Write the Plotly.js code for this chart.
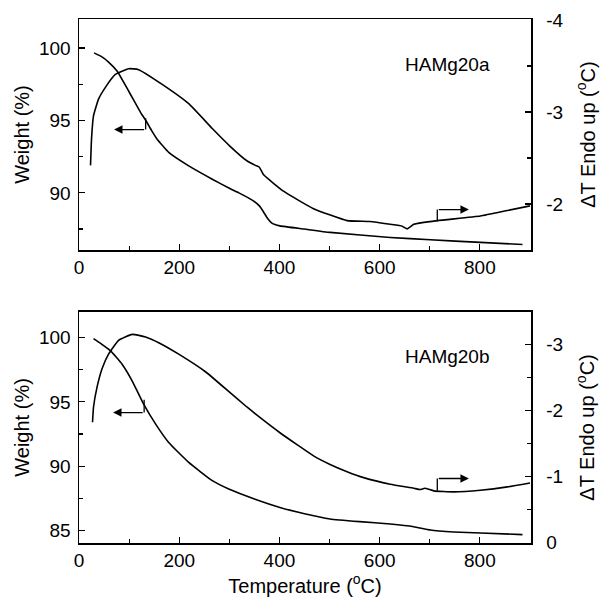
<!DOCTYPE html>
<html>
<head>
<meta charset="utf-8">
<script src="https://cdn.plot.ly/plotly-3.0.1.min.js"></script>
<style>html,body{margin:0;padding:0;background:#fff;}#chart{width:608px;height:604px;}</style>
</head>
<body>
<div id="chart"></div>
<script>
// ---- Data ----
// Panel a (HAMg20a)
const tgaA_T = [30, 45, 59, 76, 99, 123, 133, 145, 156, 179, 219, 266, 301, 319, 348, 360, 368, 375, 385, 401, 450, 501, 621, 701, 801, 885];
const tgaA_W = [99.66, 99.4, 99.03, 98.41, 97.03, 95.54, 95.01, 94.3, 93.70, 92.79, 91.86, 90.94, 90.3, 90.0, 89.45, 89.1, 88.7, 88.30, 87.91, 87.72, 87.5, 87.27, 86.92, 86.76, 86.58, 86.44];
const dtaA_T = [23, 25, 29, 39, 53, 73, 99, 119, 166, 219, 266, 301, 335, 352, 360, 368, 408, 468, 535, 581, 621, 645, 655, 668, 715, 801, 855, 900];
const dtaA_D = [-2.42, -2.71, -2.96, -3.14, -3.27, -3.41, -3.47, -3.46, -3.30, -3.09, -2.82, -2.63, -2.47, -2.42, -2.40, -2.32, -2.14, -1.95, -1.82, -1.81, -1.78, -1.76, -1.73, -1.78, -1.82, -1.87, -1.93, -1.98];
// Panel b (HAMg20b)
const tgaB_T = [29, 45, 63, 86, 106, 129, 153, 179, 219, 266, 300, 350, 401, 450, 501, 560, 621, 668, 701, 748, 801, 885];
const tgaB_W = [99.92, 99.5, 98.97, 97.93, 96.64, 94.82, 93.27, 91.84, 90.29, 88.87, 88.2, 87.45, 86.79, 86.3, 85.89, 85.68, 85.50, 85.29, 85.03, 84.88, 84.80, 84.67];
const dtaB_T = [27, 29, 36, 46, 59, 79, 106, 133, 160, 199, 253, 301, 335, 368, 401, 435, 468, 501, 535, 568, 621, 668, 681, 690, 708, 748, 801, 855, 900];
const dtaB_D = [-1.82, -2.05, -2.35, -2.63, -2.85, -3.06, -3.15, -3.11, -3.02, -2.85, -2.58, -2.27, -2.05, -1.85, -1.66, -1.48, -1.31, -1.18, -1.07, -0.98, -0.88, -0.82, -0.80, -0.82, -0.78, -0.765, -0.79, -0.84, -0.90];
// Tick labels
const xTickVals = [0, 200, 400, 600, 800];
const rightTopVals = [-4, -3, -2];
const rightTopText = ['-4', '-3', '-2'];
const rightBotVals = [-3, -2, -1, 0];
const rightBotText = ['-3', '-2', '-1', '0'];
const labelA = 'HAMg20a';
const labelB = 'HAMg20b';

const FONT = 'Liberation Sans, Arial, Helvetica, sans-serif';
const lineStyle = {color: '#000', width: 1.6, shape: 'spline', smoothing: 0.4};

const traces = [
  {x: tgaA_T, y: tgaA_W, xaxis: 'x', yaxis: 'y', mode: 'lines', line: lineStyle, hoverinfo: 'skip'},
  {x: dtaA_T, y: dtaA_D, xaxis: 'x', yaxis: 'y2', mode: 'lines', line: lineStyle, hoverinfo: 'skip'},
  {x: tgaB_T, y: tgaB_W, xaxis: 'x2', yaxis: 'y3', mode: 'lines', line: lineStyle, hoverinfo: 'skip'},
  {x: dtaB_T, y: dtaB_D, xaxis: 'x2', yaxis: 'y4', mode: 'lines', line: lineStyle, hoverinfo: 'skip'}
];

const tickFont = {family: FONT, size: 19, color: '#000'};
const titleFont = {family: FONT, size: 20, color: '#000'};

function xAxis(anchor, withTitle) {
  const ax = {
    domain: [0, 1], anchor: anchor, range: [0, 902],
    tickvals: xTickVals, ticks: 'inside', ticklen: 6, tickwidth: 1.2, tickcolor: '#000',
    minor: {tickvals: [100, 300, 500, 700], ticks: 'inside', ticklen: 4, tickwidth: 1.2, tickcolor: '#000'},
    showline: true, linecolor: '#000', linewidth: 1.5, mirror: true,
    showgrid: false, zeroline: false, tickfont: tickFont
  };
  if (withTitle) ax.title = {text: 'Temperature (<sup>o</sup>C)', font: titleFont, standoff: 7};
  return ax;
}
function yLeft(anchor, domain, range, vals, minorVals) {
  return {
    domain: domain, anchor: anchor, range: range,
    tickvals: vals, ticks: 'inside', ticklen: 6, tickwidth: 1.2, tickcolor: '#000',
    minor: {tickvals: minorVals, ticks: 'inside', ticklen: 4, tickwidth: 1.2, tickcolor: '#000'},
    showline: true, linecolor: '#000', linewidth: 1.5,
    showgrid: false, zeroline: false, tickfont: tickFont, ticklabelstandoff: 3,
    title: {text: 'Weight (%)', font: titleFont, standoff: 4}
  };
}
function yRight(anchor, overlay, range, vals, text, minorVals) {
  return {
    anchor: anchor, overlaying: overlay, side: 'right', range: range,
    tickvals: vals, ticktext: text, ticks: 'inside', ticklen: 6, tickwidth: 1.2, tickcolor: '#000',
    minor: {tickvals: minorVals, ticks: 'inside', ticklen: 4, tickwidth: 1.2, tickcolor: '#000'},
    showline: true, linecolor: '#000', linewidth: 1.5,
    showgrid: false, zeroline: false, tickfont: tickFont, ticklabelstandoff: 10,
    title: {text: '\u0394T Endo up (<sup>o</sup>C)', font: titleFont, standoff: 18}
  };
}

const arrowCommon = {showarrow: true, arrowhead: 2, arrowsize: 1.3, arrowwidth: 1.3, arrowcolor: '#000', text: '', axref: 'x', standoff: 0, startstandoff: 0};

const layout = {
  width: 608, height: 604,
  margin: {l: 79, r: 77, t: 19, b: 61},
  paper_bgcolor: '#fff', plot_bgcolor: '#fff',
  showlegend: false,
  font: {family: FONT, color: '#000'},
  xaxis: xAxis('y', false),
  xaxis2: xAxis('y3', true),
  yaxis: yLeft('x', [0.559, 1], [86.05, 102], [90, 95, 100], [87.5, 92.5, 97.5]),
  yaxis2: yRight('x', 'y', [-1.5, -4.01], rightTopVals, rightTopText, [-3.5, -2.5]),
  yaxis3: yLeft('x2', [0, 0.441], [84.02, 102], [85, 90, 95, 100], [87.5, 92.5, 97.5]),
  yaxis4: yRight('x2', 'y3', [0.01, -3.49], rightBotVals, rightBotText, [-2.5, -1.5, -0.5]),
  shapes: [
    {type: 'line', xref: 'x', yref: 'y', x0: 133, x1: 133, y0: 95.15, y1: 94.37, line: {color: '#000', width: 1.3}},
    {type: 'line', xref: 'x', yref: 'y2', x0: 715, x1: 715, y0: -1.81, y1: -1.94, line: {color: '#000', width: 1.3}},
    {type: 'line', xref: 'x2', yref: 'y3', x0: 130, x1: 130, y0: 95.16, y1: 94.17, line: {color: '#000', width: 1.3}},
    {type: 'line', xref: 'x2', yref: 'y4', x0: 715, x1: 715, y0: -0.78, y1: -0.967, line: {color: '#000', width: 1.3}}
  ],
  annotations: [
    Object.assign({}, arrowCommon, {xref: 'x', yref: 'y', x: 70, y: 94.37, ax: 133, ay: 94.37, ayref: 'y'}),
    Object.assign({}, arrowCommon, {xref: 'x', yref: 'y2', x: 778, y: -1.94, ax: 715, ay: -1.94, ayref: 'y2'}),
    Object.assign({}, arrowCommon, {xref: 'x2', yref: 'y3', axref: 'x2', x: 68, y: 94.17, ax: 130, ay: 94.17, ayref: 'y3'}),
    Object.assign({}, arrowCommon, {xref: 'x2', yref: 'y4', axref: 'x2', x: 778, y: -0.967, ax: 715, ay: -0.967, ayref: 'y4'}),
    {xref: 'x', yref: 'y', x: 736, y: 98.88, text: labelA, showarrow: false, font: {family: FONT, size: 19, color: '#000'}},
    {xref: 'x2', yref: 'y3', x: 736, y: 98.52, text: labelB, showarrow: false, font: {family: FONT, size: 19, color: '#000'}}
  ]
};

Plotly.newPlot('chart', traces, layout, {staticPlot: true, displayModeBar: false});
</script>
</body>
</html>
